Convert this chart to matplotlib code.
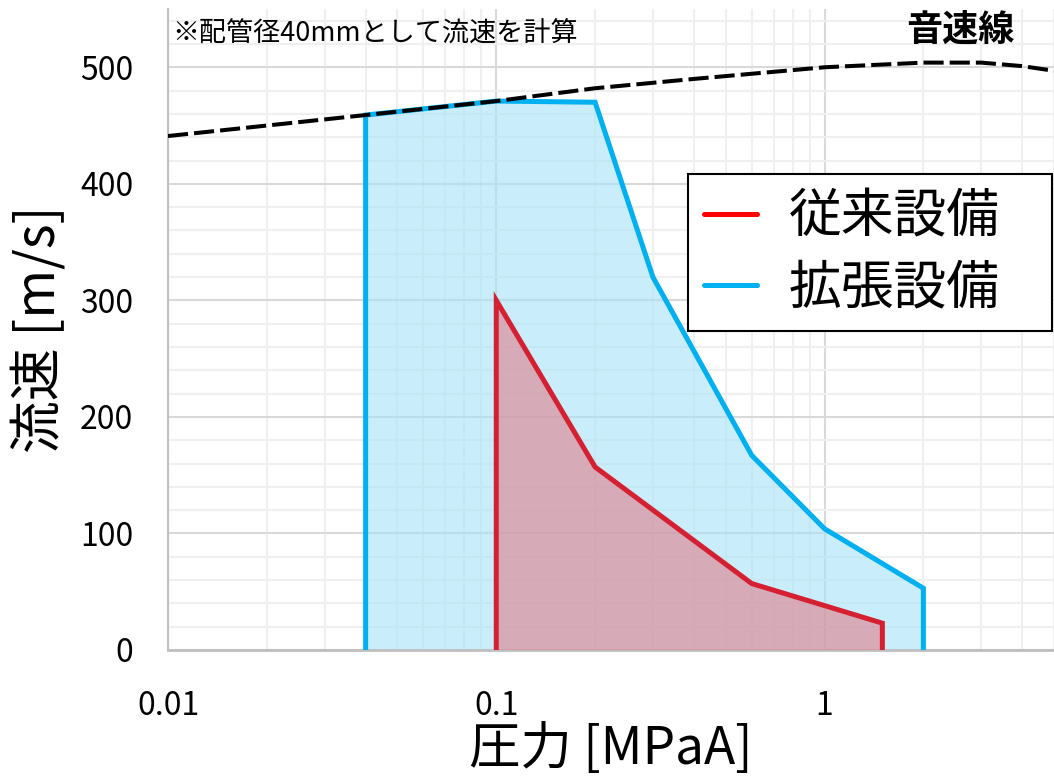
import numpy as np
import matplotlib
matplotlib.use("Agg")
import matplotlib.pyplot as plt
from matplotlib.lines import Line2D
from matplotlib.ticker import LogLocator, MultipleLocator, FixedLocator, NullFormatter

plt.rcParams["font.family"] = ["Noto Sans CJK JP", "DejaVu Sans"]

# pressure [MPaA] vs flow velocity [m/s]
old_p = [0.1, 0.1, 0.2, 0.6, 1.5, 1.5]
old_v = [0, 300, 157, 57, 23, 0]

new_p = [0.04, 0.04, 0.1, 0.2, 0.3, 0.6, 1.0, 2.0, 2.0]
new_v = [0, 459, 471, 470, 320, 167, 104, 53, 0]

# speed of sound line
sonic_p = [0.01, 0.02, 0.04, 0.1, 0.2, 0.4, 1.0, 2.0, 3.0, 4.0, 5.0]
sonic_v = [441, 450, 459, 471, 482, 490, 500, 504, 504, 501, 497]

series_labels = ["従来設備", "拡張設備"]

fig = plt.figure(figsize=(10.54, 7.83), dpi=100)
ax = fig.add_axes([0.1594, 0.1699, 0.8406, 0.8186])

ax.set_xscale("log")
ax.set_xlim(0.01, 5)
ax.set_ylim(0, 550)

# filled operating envelopes
ax.fill(new_p, new_v, color="#a6e2f7", alpha=0.6, lw=0, zorder=2)
ax.fill(old_p, old_v, color="#e07f8b", alpha=0.6, lw=0, zorder=3)
ax.plot(new_p, new_v, color="#00b0f0", lw=3.6, zorder=4, solid_joinstyle="miter")
ax.plot(old_p, old_v, color="#d42030", lw=3.6, zorder=5, solid_joinstyle="miter")

ax.plot(sonic_p, sonic_v, color="black", lw=2.9, dashes=(5, 1.5), zorder=6)

# ticks and grid
ax.xaxis.set_major_locator(FixedLocator([0.01, 0.1, 1]))
ax.xaxis.set_minor_locator(LogLocator(base=10, subs=np.arange(2, 10)))
ax.xaxis.set_minor_formatter(NullFormatter())
ax.set_xticklabels(["0.01", "0.1", "1"])
ax.yaxis.set_major_locator(MultipleLocator(100))
ax.yaxis.set_minor_locator(MultipleLocator(20))

ax.grid(which="major", color="#d9d9d9", lw=1.5, zorder=0)
ax.grid(which="minor", color="#efefef", lw=1.5, zorder=0)
ax.set_axisbelow(True)

ax.tick_params(which="both", length=0)
ax.tick_params(axis="y", labelsize=23, pad=25)
ax.tick_params(axis="x", labelsize=23, pad=29)

for side in ("top", "right"):
    ax.spines[side].set_visible(False)
ax.spines["left"].set_color("#bfbfbf")
ax.spines["left"].set_linewidth(1.5)
ax.spines["bottom"].set_color("#bfbfbf")
ax.spines["bottom"].set_linewidth(2)

ax.set_xlabel("圧力 [MPaA]", fontsize=37, labelpad=0)
ax.set_ylabel("流速 [m/s]", fontsize=38, labelpad=10)

ax.text(0.005, 0.961, "※配管径40mmとして流速を計算", transform=ax.transAxes,
        ha="left", va="center", fontsize=19.5)
ax.text(0.894, 0.967, "音速線", transform=ax.transAxes,
        ha="center", va="center", fontsize=26, fontweight="bold")

handles = [Line2D([], [], color="#ff0000", lw=3.6, solid_capstyle="round"),
           Line2D([], [], color="#00b0f0", lw=3.6, solid_capstyle="round")]
leg = ax.legend(handles, series_labels, loc="upper left",
                bbox_to_anchor=(0.587, 0.499, 0.411, 0.244), mode="expand",
                fontsize=38, fancybox=False, framealpha=1, edgecolor="black",
                handlelength=1.0, handletextpad=0.6, labelspacing=0.3,
                borderpad=0.3, borderaxespad=0)
leg.get_frame().set_linewidth(1.5)
leg.set_zorder(10)

fig.savefig("out.png", dpi=100)
